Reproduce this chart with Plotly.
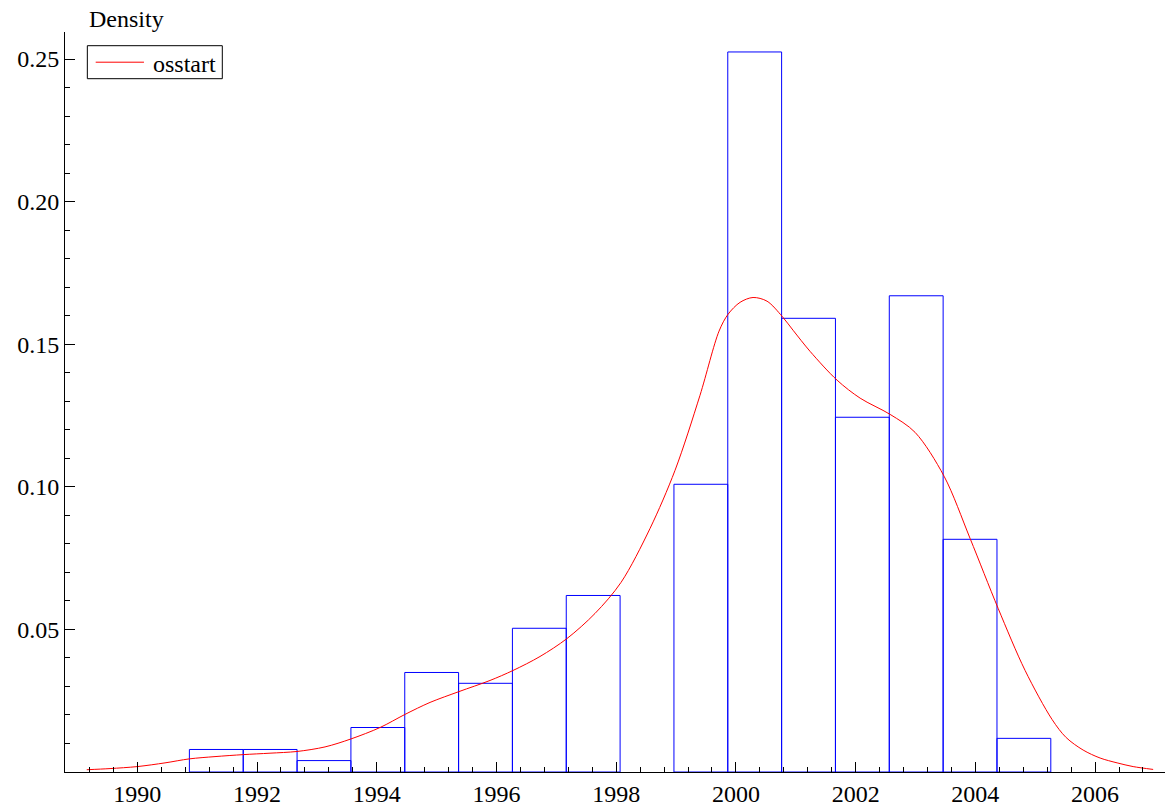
import plotly.graph_objects as go

# ---- data ----
bin_start = 1990.87
bin_width = 0.8994
hist_density = [0.0079, 0.0079, 0.0040, 0.0156, 0.0349, 0.0311, 0.0504, 0.0619,
                None, 0.1009, 0.2525, 0.1591, 0.1244, 0.1670, 0.0816, 0.0118]

kde_x = [1989.155, 1989.544, 1990.000, 1990.463, 1990.869, 1991.298, 1991.771,
         1992.217, 1992.668, 1993.136, 1993.570, 1994.055, 1994.472, 1994.890,
         1995.374, 1995.892, 1996.276, 1996.727, 1997.178, 1997.646, 1998.081,
         1998.565, 1998.983, 1999.400, 1999.718, 1999.868, 2000.069, 2000.286,
         2000.520, 2000.771, 2000.955, 2001.239, 2001.690, 2002.075, 2002.576,
         2002.993, 2003.478, 2003.912, 2004.380, 2004.831, 2005.282, 2005.516,
         2005.800, 2006.084, 2006.368, 2006.636, 2006.970]
kde_y = [0.0008, 0.0012, 0.0019, 0.0032, 0.0046, 0.0054, 0.0061,
         0.0066, 0.0072, 0.0088, 0.0116, 0.0156, 0.0202, 0.0244,
         0.0282, 0.0321, 0.0356, 0.0405, 0.0468, 0.0556, 0.0665,
         0.0854, 0.1058, 0.1321, 0.1546, 0.1605, 0.1647, 0.1664,
         0.1651, 0.1598, 0.1549, 0.1475, 0.1374, 0.1311, 0.1254,
         0.1191, 0.1037, 0.0819, 0.0574, 0.0356, 0.0184, 0.0121,
         0.0077, 0.0049, 0.0032, 0.0019, 0.0009]

series_name = "osstart"
y_title = "Density"
x_tickvals = [1990, 1992, 1994, 1996, 1998, 2000, 2002, 2004, 2006]
y_tickvals = [0.05, 0.10, 0.15, 0.20, 0.25]
y_ticktext = ["0.05", "0.10", "0.15", "0.20", "0.25"]

bin_centers = [bin_start + bin_width * (i + 0.5) for i in range(len(hist_density))]

FONT = "Liberation Serif"
FS = 24

fig = go.Figure()
fig.add_trace(go.Bar(
    x=bin_centers, y=hist_density, width=bin_width,
    marker=dict(color="rgba(0,0,0,0)", line=dict(color="#0000ff", width=1)),
    showlegend=False, hoverinfo="skip",
))
fig.add_trace(go.Scatter(
    x=kde_x, y=kde_y, mode="lines", name=series_name,
    line=dict(color="#ff0000", width=1, shape="spline", smoothing=0.9),
    showlegend=False, hoverinfo="skip",
))

# legend box drawn as shapes + real text (tight box like the reference)
leg_y = 0.9592
shapes = [
    dict(type="rect", xref="paper", yref="paper", x0=0.0203, x1=0.1430,
         y0=0.9369, y1=0.9815, line=dict(color="black", width=1),
         fillcolor="white", layer="above"),
    dict(type="line", xref="paper", yref="paper", x0=0.0279, x1=0.0718,
         y0=leg_y, y1=leg_y, line=dict(color="#ff0000", width=1), layer="above"),
]

fig.update_layout(
    width=1165, height=808,
    margin=dict(l=65, r=0, t=32, b=36),
    paper_bgcolor="white", plot_bgcolor="white",
    font=dict(family=FONT, size=FS, color="black"),
    showlegend=False,
    hovermode=False,
    shapes=shapes,
    annotations=[
        dict(text=y_title, xref="paper", yref="paper",
             x=0.0200, y=1.0176, xanchor="left", yanchor="middle",
             showarrow=False, font=dict(family=FONT, size=FS)),
        dict(text=series_name, xref="paper", yref="paper",
             x=0.0778, y=0.9565, xanchor="left", yanchor="middle",
             showarrow=False, font=dict(family=FONT, size=FS)),
    ],
)

fig.update_xaxes(
    range=[1988.792, 2007.168], showgrid=False, zeroline=False,
    showline=True, linecolor="black", linewidth=1,
    tickmode="array", tickvals=x_tickvals,
    ticks="inside", ticklen=10, tickcolor="black", tickwidth=1,
    minor=dict(ticks="inside", ticklen=5, dtick=0.4, tick0=1990,
               tickcolor="black", tickwidth=1, showgrid=False),
    tickfont=dict(family=FONT, size=FS),
)
fig.update_yaxes(
    range=[0, 0.2595], showgrid=False, zeroline=False,
    showline=True, linecolor="black", linewidth=1,
    tickmode="array", tickvals=y_tickvals, ticktext=y_ticktext,
    ticks="inside", ticklen=10, tickcolor="black", tickwidth=1,
    minor=dict(ticks="inside", ticklen=5, dtick=0.01, tick0=0,
               tickcolor="black", tickwidth=1, showgrid=False),
    tickfont=dict(family=FONT, size=FS),
    ticklabelstandoff=0,
)

# remove the default 8px page margin so the figure fills the window exactly
fig.write_html("out.html",
               config={"displayModeBar": False},
               post_script="document.body.style.margin='0';document.body.style.overflow='hidden';")
